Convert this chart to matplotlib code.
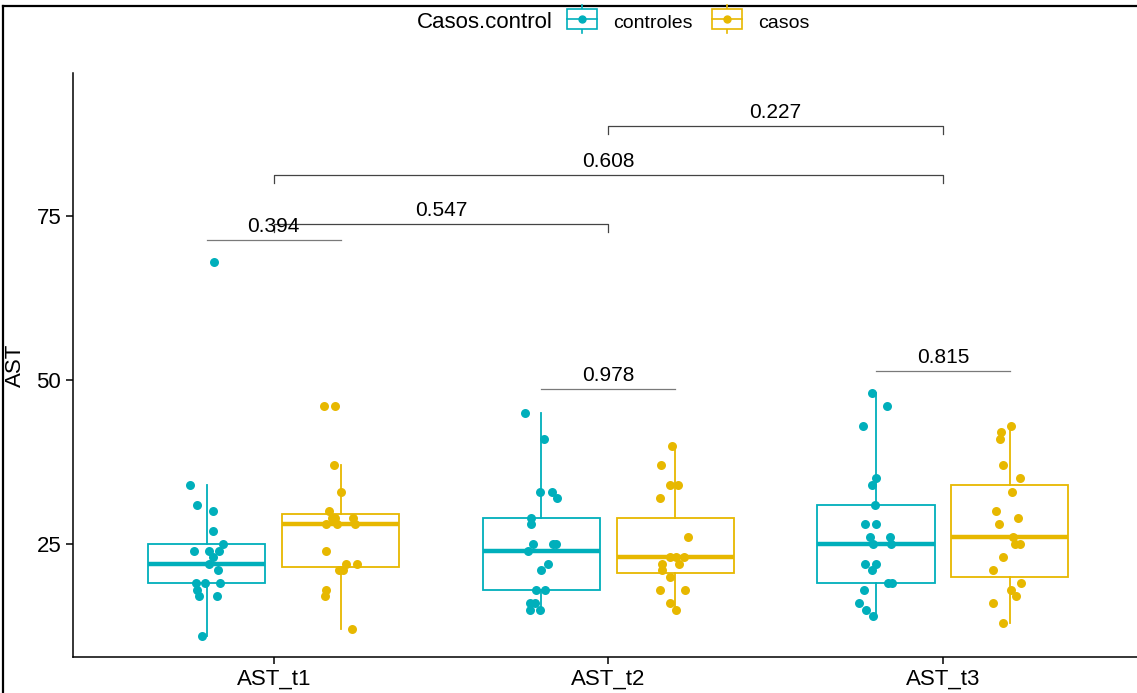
import matplotlib
matplotlib.use('Agg')
import matplotlib.pyplot as plt
from matplotlib.lines import Line2D
from matplotlib.patches import Rectangle
from matplotlib.legend_handler import HandlerBase

plt.rcParams['font.family'] = ['Liberation Sans', 'DejaVu Sans']

# categories and groups
categories = ['AST_t1', 'AST_t2', 'AST_t3']
group_names = ['controles', 'casos']
colors = {'controles': '#00AFBB', 'casos': '#E7B800'}

# individual values
ctrl_t1 = [68, 34, 31, 30, 27, 25, 24, 24, 24, 23, 22, 21, 19, 19, 19, 18, 17, 17, 11]
case_t1 = [46, 46, 37, 33, 30, 29, 29, 29, 28, 28, 28, 24, 22, 22, 21, 21, 18, 17, 12]
ctrl_t2 = [45, 41, 33, 33, 32, 29, 28, 25, 25, 25, 24, 22, 21, 18, 18, 16, 16, 15, 15]
case_t2 = [40, 37, 34, 34, 32, 26, 23, 23, 23, 22, 22, 21, 20, 18, 18, 16, 15]
ctrl_t3 = [48, 46, 43, 35, 34, 31, 28, 28, 26, 26, 25, 25, 22, 22, 21, 19, 19, 18, 16, 15, 14]
case_t3 = [43, 42, 41, 37, 35, 33, 30, 29, 28, 26, 25, 25, 23, 21, 19, 18, 17, 16, 13]

# horizontal jitter of each point (fraction of a category)
ctrl_t1_jit = [0.021, -0.050, -0.029, 0.019, 0.017, 0.048, -0.038, 0.005, 0.035, 0.017,
               0.005, 0.032, -0.031, -0.006, 0.039, -0.029, -0.022, 0.029, -0.013]
case_t1_jit = [-0.050, -0.018, -0.021, 0.0, -0.036, -0.026, -0.017, 0.038, -0.044, -0.012,
               0.044, -0.044, 0.017, 0.048, -0.005, 0.006, -0.045, -0.048, 0.034]
ctrl_t2_jit = [-0.048, 0.007, -0.003, 0.031, 0.048, -0.032, -0.030, -0.024, 0.036, 0.045,
               -0.041, 0.020, -0.002, -0.017, 0.012, -0.035, -0.019, -0.035, -0.003]
case_t2_jit = [-0.011, -0.042, -0.015, 0.007, -0.045, 0.037, -0.017, 0.003, 0.025, -0.040,
               0.012, -0.040, -0.015, -0.045, 0.028, -0.015, 0.001]
ctrl_t3_jit = [-0.011, 0.033, -0.038, 0.0, -0.011, -0.003, -0.033, -0.001, -0.019, 0.041,
               -0.009, 0.044, -0.033, 0.0, -0.011, 0.036, 0.048, -0.036, -0.050, -0.030, -0.009]
case_t3_jit = [0.002, -0.025, -0.030, -0.019, 0.031, 0.006, -0.042, 0.025, -0.032, 0.009,
               0.016, 0.031, -0.021, -0.050, 0.033, 0.004, 0.019, -0.050, -0.019]

# box statistics
ctrl_med = [22, 24, 25]
ctrl_q1 = [19, 18, 19]
ctrl_q3 = [25, 29, 31]
ctrl_lo = [11, 15, 14]
ctrl_hi = [34, 45, 48]
case_med = [28, 23, 26]
case_q1 = [21.5, 20.5, 20]
case_q3 = [29.5, 29, 34]
case_lo = [12, 15, 13]
case_hi = [37, 40, 43]

# p-value comparisons: (from, to, height, label)
within_tests = [(0.8, 1.2, 71.3, '0.394'), (1.8, 2.2, 48.6, '0.978'), (2.8, 3.2, 51.4, '0.815')]
between_tests = [(1, 2, 73.8, '0.547'), (1, 3, 81.25, '0.608'), (2, 3, 88.7, '0.227')]

points = {
    'controles': [(ctrl_t1, ctrl_t1_jit), (ctrl_t2, ctrl_t2_jit), (ctrl_t3, ctrl_t3_jit)],
    'casos': [(case_t1, case_t1_jit), (case_t2, case_t2_jit), (case_t3, case_t3_jit)],
}
stats = {
    'controles': (ctrl_med, ctrl_q1, ctrl_q3, ctrl_lo, ctrl_hi),
    'casos': (case_med, case_q1, case_q3, case_lo, case_hi),
}
dodge = {'controles': -0.2, 'casos': 0.2}

fig = plt.figure(figsize=(11.37, 6.93), dpi=100)
ax = fig.add_axes([73 / 1137, 36 / 693, 1 - 73 / 1137, (657 - 73) / 693])

for g in group_names:
    c = colors[g]
    med, q1, q3, lo, hi = stats[g]
    bxp_stats = []
    for i in range(len(categories)):
        bxp_stats.append({'med': med[i], 'q1': q1[i], 'q3': q3[i],
                          'whislo': lo[i], 'whishi': hi[i], 'fliers': []})
    pos = [i + 1 + dodge[g] for i in range(len(categories))]
    ax.bxp(bxp_stats, positions=pos, widths=0.35, showcaps=False, showfliers=False,
           patch_artist=True, manage_ticks=False,
           boxprops=dict(facecolor='white', edgecolor=c, linewidth=1.3),
           whiskerprops=dict(color=c, linewidth=1.3),
           medianprops=dict(color=c, linewidth=3.2, solid_capstyle='butt'))
    for i, (vals, jit) in enumerate(points[g]):
        xs = [i + 1 + dodge[g] + j for j in jit]
        ax.scatter(xs, vals, s=42, color=c, zorder=3, linewidths=0)

# comparison brackets
tip = 1.2
for x1, x2, y, lab in within_tests:
    ax.plot([x1, x2], [y, y], color='#7a7a7a', lw=0.9)
    ax.annotate(lab, ((x1 + x2) / 2, y), xytext=(0, 3), textcoords='offset points',
                ha='center', va='bottom', fontsize=15)
for x1, x2, y, lab in between_tests:
    ax.plot([x1, x1, x2, x2], [y - tip, y, y, y - tip], color='#444444', lw=0.9)
    ax.annotate(lab, ((x1 + x2) / 2, y), xytext=(0, 3), textcoords='offset points',
                ha='center', va='bottom', fontsize=15)

ax.set_xlim(0.4, 3.58)
ax.set_ylim(7.77, 96.8)
ax.set_xticks([1, 2, 3])
ax.set_xticklabels(categories)
ax.set_yticks([25, 50, 75])
ax.tick_params(axis='both', labelsize=16, length=5, width=1.1, color='black', labelcolor='black')
for s in ['top', 'right']:
    ax.spines[s].set_visible(False)
for s in ['left', 'bottom']:
    ax.spines[s].set_linewidth(1.1)
fig.text(15 / 1137, 1 - 365 / 693, 'AST', rotation=90, ha='center', va='center', fontsize=16)


# legend key: small boxplot glyph
class BoxKey(HandlerBase):
    def create_artists(self, legend, orig_handle, xdescent, ydescent, width, height, fontsize, trans):
        c = orig_handle.get_color()
        cx = width / 2 - xdescent
        bw = width * 0.85
        top = height * 1.05
        bot = -height * 0.05
        r = Rectangle((cx - bw / 2, bot), bw, top - bot,
                      facecolor='white', edgecolor=c, lw=1.2, transform=trans)
        w = Line2D([cx, cx], [bot - 3, top + 3], color=c, lw=1.2, transform=trans)
        m = Line2D([cx - bw / 2, cx + bw / 2], [(top + bot) / 2] * 2, color=c, lw=1.2, transform=trans)
        d = Line2D([cx], [(top + bot) / 2], marker='o', ms=5, color=c, transform=trans)
        return [w, r, m, d]


handles = [Line2D([], [], color=colors[g]) for g in group_names]
fig.legend(handles, group_names, handler_map={Line2D: BoxKey()}, loc='center',
           bbox_to_anchor=(687 / 1137, 1 - 22 / 693), ncol=2, frameon=False, fontsize=14,
           handlelength=1.8, handleheight=1.0, handletextpad=0.7, columnspacing=0.9)
fig.text(485 / 1137, 1 - 22 / 693, 'Casos.control', ha='center', va='center', fontsize=16)

# screenshot frame
fig.add_artist(Line2D([3 / 1137, 1], [1 - 6 / 693, 1 - 6 / 693], color='black', lw=1.6))
fig.add_artist(Line2D([3 / 1137, 3 / 1137], [0, 1 - 6 / 693], color='black', lw=1.6))

fig.savefig('out.png', dpi=100)
